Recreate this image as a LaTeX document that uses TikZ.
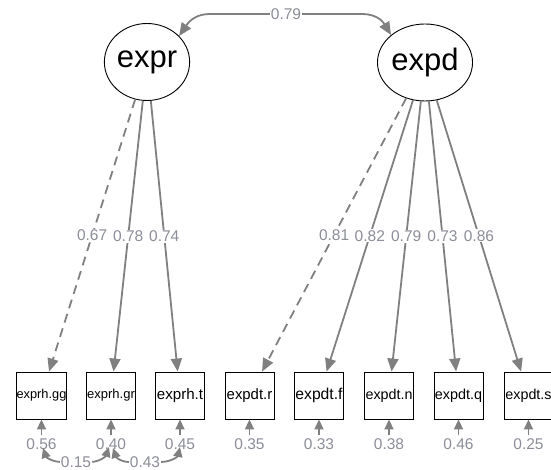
\documentclass[tikz,border=0pt]{standalone}
\usepackage{fontspec}
\setmainfont{Liberation Sans}
\usetikzlibrary{arrows.meta,shapes.geometric}
\definecolor{edgegray}{RGB}{128,128,128}
\definecolor{lblgray}{RGB}{140,142,152}
\newcommand\bxfont[1]{\fontsize{#1}{#1}\selectfont}
\begin{document}
\begin{tikzpicture}[x=1pt,y=-1pt,
  latent/.style={draw=black,line width=0.9pt,ellipse,minimum width=81pt,minimum height=77pt,inner sep=0pt,font=\bxfont{31}},
  manifest/.style={draw=black,line width=0.9pt,rectangle,minimum width=49pt,minimum height=47pt,inner sep=0pt},
  arr/.style={draw=edgegray,line width=1.8pt,-{Triangle[length=13pt,width=11pt]}},
  biarr/.style={draw=edgegray,line width=1.8pt,{Triangle[length=13pt,width=11pt]}-{Triangle[length=13pt,width=11pt]}},
  resarr/.style={draw=edgegray,line width=1.8pt,-{Triangle[length=10pt,width=9pt]}},
  resbiarr/.style={draw=edgegray,line width=1.8pt,{Triangle[length=10pt,width=9pt]}-{Triangle[length=10pt,width=9pt]}},
  dashedge/.style={dash pattern=on 9pt off 6pt},
  lbl/.style={fill=white,text=lblgray,inner sep=1pt,font=\bxfont{15.5}},
  reslbl/.style={text=lblgray,inner sep=1pt,font=\bxfont{15.5}}
]
\useasboundingbox (0,0) rectangle (551,470);

% latent variables
\node[latent] (expr) at (147,62) {expr};
\node[latent] (expd) at (425,62.5) {expd};

% manifest variables
\node[manifest,font=\bxfont{12.8}] (gg) at (41.5,395.5) {exprh.gg};
\node[manifest,font=\bxfont{13}] (gr) at (111,395.5) {exprh.gr};
\node[manifest,font=\bxfont{15.1}] (t) at (180,395.5) {exprh.t};
\node[manifest,font=\bxfont{14.9}] (r) at (249.5,395.5) {expdt.r};
\node[manifest,font=\bxfont{15.7}] (f) at (319,395.5) {expdt.f};
\node[manifest,font=\bxfont{14.3}] (n) at (389,395.5) {expdt.n};
\node[manifest,font=\bxfont{14.4}] (q) at (458.5,395.5) {expdt.q};
\node[manifest,font=\bxfont{14.3}] (s) at (528.5,395.5) {expdt.s};

% loadings
\draw[arr,dashedge] (expr) -- node[lbl]{0.67} (gg);
\draw[arr] (expr) -- node[lbl]{0.78} (gr);
\draw[arr] (expr) -- node[lbl]{0.74} (t);
\draw[arr,dashedge] (expd) -- node[lbl]{0.81} (r);
\draw[arr] (expd) -- node[lbl]{0.82} (f);
\draw[arr] (expd) -- node[lbl]{0.79} (n);
\draw[arr] (expd) -- node[lbl]{0.73} (q);
\draw[arr] (expd) -- node[lbl]{0.86} (s);

% latent covariance
\draw[biarr] (expr.39) .. controls (190,20) and (197,14) .. (210,14)
  -- node[lbl]{0.79} (362,14) .. controls (375,14) and (382,20) .. (expd.141);

% residual variances
\foreach \b/\v in {gg/0.56,gr/0.40,t/0.45,r/0.35,f/0.33,n/0.38,q/0.46,s/0.25}{
  \node[reslbl] (res\b) at ([yshift=-48.5pt]\b.center) {\v};
  \draw[resarr] ([yshift=2pt]res\b.north) -- (\b.south);
}

% residual covariances
\coordinate (c1) at (43,448);
\coordinate (c2) at (109,447);
\coordinate (c3) at (113,448);
\coordinate (c4) at (180,447);
\draw[resbiarr] (c1) .. controls (46,457) and (52,462) .. (62,462)
  -- node[lbl]{0.15} (90,462) .. controls (100,462) and (106,456) .. (c2);
\draw[resbiarr] (c3) .. controls (116,457) and (120,462) .. (130,462)
  -- node[lbl]{0.43} (160,462) .. controls (172,462) and (178,456) .. (c4);
\end{tikzpicture}
\end{document}
